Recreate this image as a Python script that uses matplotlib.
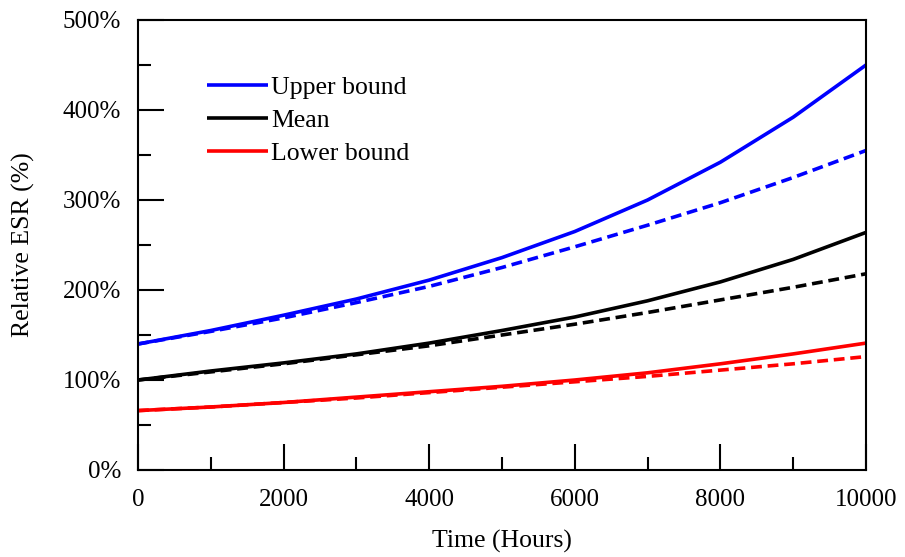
import matplotlib
matplotlib.use("Agg")
import matplotlib.pyplot as plt
from matplotlib.ticker import MultipleLocator, FuncFormatter

plt.rcParams['font.family'] = ['Liberation Serif', 'DejaVu Serif']

hours = [0, 1000, 2000, 3000, 4000, 5000, 6000, 7000, 8000, 9000, 10000]
upper_solid = [140, 155, 172, 190, 211, 236, 265, 300, 342, 392, 450]
upper_dashed = [140, 154, 169, 186, 204, 225, 248, 272, 297, 325, 355]
mean_solid = [100, 110, 119, 129, 141, 155, 170, 188, 209, 234, 264]
mean_dashed = [100, 109, 118, 128, 138, 150, 162, 175, 189, 203, 218]
lower_solid = [66, 70, 75, 81, 87, 93, 100, 108, 118, 129, 141]
lower_dashed = [66, 70, 75, 80, 86, 92, 98, 104, 111, 118, 126]
labels = ["Upper bound", "Mean", "Lower bound"]

fig = plt.figure(figsize=(9.05, 5.57), dpi=100)
ax = fig.add_axes([138/905, 1-470/557, (866-138)/905, (470-20)/557])

lw = 2.6
dash = (3.0, 1.6)
series = [(upper_solid, upper_dashed, '#0000ff'),
          (mean_solid, mean_dashed, '#000000'),
          (lower_solid, lower_dashed, '#ff0000')]
handles = []
for (s, d, c), lab in zip(series, labels):
    h, = ax.plot(hours, s, color=c, lw=lw, label=lab, solid_capstyle='butt',
                 solid_joinstyle='round')
    ax.plot(hours, d, color=c, lw=lw, linestyle=(0, dash), dash_capstyle='butt')
    handles.append(h)

ax.set_xlim(0, 10000)
ax.set_ylim(0, 500)
ax.xaxis.set_major_locator(MultipleLocator(2000))
ax.xaxis.set_minor_locator(MultipleLocator(1000))
ax.yaxis.set_major_locator(MultipleLocator(100))
ax.yaxis.set_minor_locator(MultipleLocator(50))
ax.yaxis.set_major_formatter(FuncFormatter(lambda v, p: f"{int(v)}%"))

for sp in ax.spines.values():
    sp.set_linewidth(1.5)
ax.tick_params(which='major', direction='in', length=19, width=1.5, labelsize=18)
ax.tick_params(which='minor', direction='in', length=9.5, width=1.5)
ax.tick_params(axis='x', which='both', pad=14)
ax.tick_params(axis='y', which='both', pad=12)

ax.set_xlabel("Time (Hours)", fontsize=18.5, labelpad=13)
ax.set_ylabel("Relative ESR (%)", fontsize=18.5, labelpad=20)

leg = ax.legend(handles=handles, loc='upper left', bbox_to_anchor=(0.080, 0.898),
                frameon=False, fontsize=18.5, handlelength=2.4, handletextpad=0.12,
                labelspacing=0.38, borderaxespad=0)

fig.savefig("out.png", dpi=100)
